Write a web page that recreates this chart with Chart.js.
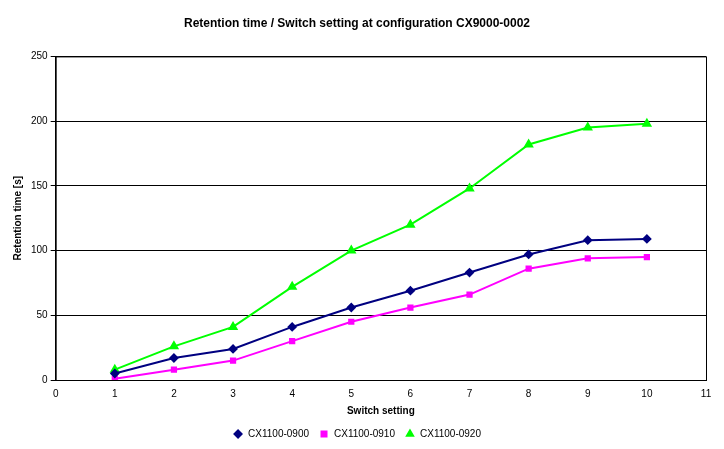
<!DOCTYPE html>
<html>
<head>
<meta charset="utf-8">
<script src="https://cdn.jsdelivr.net/npm/chart.js@4/dist/chart.umd.min.js"></script>
<style>
  body { margin: 0; background: #fff; }
  #wrap { width: 724px; height: 449px; }
</style>
</head>
<body>
<div id="wrap"><canvas id="chart"></canvas></div>
<script>
// switch settings and retention times
const switchSettings = [1, 2, 3, 4, 5, 6, 7, 8, 9, 10];
const cx0900 = [5, 17, 24, 41, 56, 69, 83, 97, 108, 109];
const cx0910 = [1, 8, 15, 30, 45, 56, 66, 86, 94, 95];
const cx0920 = [8, 26, 41, 72, 100, 120, 148, 182, 195, 198];

const toPoints = (vals) => vals.map((v, i) => ({ x: switchSettings[i], y: v }));

// draws the black frame around the plot area
const frame = {
  id: 'frame',
  afterDraw(chart) {
    const a = chart.chartArea, c = chart.ctx;
    c.save();
    c.strokeStyle = '#000';
    c.lineWidth = 1;
    c.strokeRect(a.left + 0.5, a.top + 0.5, a.right - a.left, a.bottom - a.top);
    c.restore();
  }
};

Chart.defaults.font.family = 'Arial, "Liberation Sans", sans-serif';
Chart.defaults.color = '#000';

new Chart(document.getElementById('chart'), {
  type: 'line',
  data: {
    datasets: [{
      label           : 'CX1100-0900',
      data            : toPoints(cx0900),
      borderColor     : '#000080',
      backgroundColor : '#000080',
      pointStyle      : 'rectRot',
      pointRadius     : 3.5,
      borderWidth     : 2,
    }, {
      label           : 'CX1100-0910',
      data            : toPoints(cx0910),
      borderColor     : '#ff00ff',
      backgroundColor : '#ff00ff',
      pointStyle      : 'rect',
      pointRadius     : 3,
      borderWidth     : 2,
    }, {
      label           : 'CX1100-0920',
      data            : toPoints(cx0920),
      borderColor     : '#00ff00',
      backgroundColor : '#00ff00',
      pointStyle      : 'triangle',
      pointRadius     : 4,
      borderWidth     : 2,
    }],
  },
  options: {
    responsive: true,
    maintainAspectRatio: false,
    animation: false,
    layout: { padding: { left: 8, right: 18, top: 4, bottom: 0 } },
    plugins: {
      title: {
        display: true,
        text: 'Retention time / Switch setting at configuration CX9000-0002',
        font: { size: 12, weight: 'bold' },
        padding: { top: 12, bottom: 26 },
      },
      legend: {
        position: 'bottom',
        labels: { usePointStyle: true, boxWidth: 30, boxHeight: 5, font: { size: 10 } },
      },
      tooltip: { enabled: false },
    },
    scales: {
      x: {
        type: 'linear',
        min: 0, max: 11,
        ticks: { stepSize: 1, font: { size: 10 } },
        grid: { display: false, drawTicks: true, tickLength: 5, tickColor: '#000' },
        border: { color: '#000' },
        title: { display: true, text: 'Switch setting', font: { size: 10, weight: 'bold' }, padding: 2 },
      },
      y: {
        min: 0, max: 250,
        ticks: { stepSize: 50, font: { size: 10 } },
        grid: { color: '#000', tickLength: 5, tickColor: '#000' },
        border: { color: '#000' },
        title: { display: true, text: 'Retention time [s]', font: { size: 10, weight: 'bold' } },
      },
    },
  },
  plugins: [frame],
});
</script>
</body>
</html>
